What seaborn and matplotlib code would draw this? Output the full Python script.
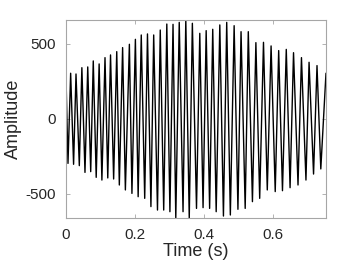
import numpy as np
import pandas as pd
import matplotlib
matplotlib.use("Agg")
import matplotlib.pyplot as plt
import seaborn as sns

# extremes of the waveform (time in s, amplitude)
peak_t = [0.0135, 0.029, 0.046, 0.063, 0.079, 0.096, 0.113, 0.129, 0.147, 0.164,
          0.1836, 0.201, 0.218, 0.236, 0.254, 0.273, 0.292, 0.310, 0.328, 0.347,
          0.366, 0.3875, 0.406, 0.425, 0.4455, 0.4655, 0.487, 0.507, 0.528, 0.550,
          0.572, 0.594, 0.616, 0.638, 0.659, 0.682, 0.704, 0.727]
peak_v = [305, 300, 342, 347, 387, 367, 409, 427, 449, 476,
          498, 531, 560, 567, 560, 593, 633, 631, 644, 662,
          638, 571, 589, 598, 627, 644, 622, 582, 582, 509,
          511, 487, 456, 464, 442, 409, 378, 356]

trough_t = [0.0058, 0.022, 0.0386, 0.055, 0.0716, 0.0875, 0.104, 0.121, 0.138, 0.1545,
            0.172, 0.191, 0.209, 0.228, 0.246, 0.265, 0.283, 0.301, 0.318, 0.339,
            0.357, 0.378, 0.397, 0.416, 0.435, 0.456, 0.476, 0.498, 0.519, 0.540,
            0.561, 0.583, 0.606, 0.627, 0.649, 0.672, 0.695, 0.717, 0.738]
trough_v = [-296, -302, -311, -356, -351, -389, -407, -393, -400, -440,
            -473, -496, -518, -529, -584, -607, -607, -618, -662, -618,
            -662, -596, -591, -596, -618, -647, -640, -602, -596, -551,
            -529, -473, -484, -478, -458, -440, -407, -367, -333]

edge_t = [0.0, 0.753]
edge_v = [282, 305]

df = pd.DataFrame({
    "t": np.concatenate([edge_t, peak_t, trough_t]),
    "a": np.concatenate([edge_v, peak_v, trough_v]),
}).sort_values("t")

sns.set_theme(style="white")
plt.rcParams["font.family"] = ["Liberation Sans", "DejaVu Sans"]
plt.rcParams["axes.unicode_minus"] = False

fig = plt.figure(figsize=(3.6, 2.7), dpi=100)
ax = fig.add_axes([0.1833, 0.1915, 0.7222, 0.7356])

sns.lineplot(data=df, x="t", y="a", sort=False, estimator=None,
             color="black", linewidth=1.0, ax=ax)

ax.set_xlim(0, 0.753)
ax.set_ylim(-662, 662)
ax.set_xticks([0, 0.2, 0.4, 0.6])
ax.set_xticklabels(["0", "0.2", "0.4", "0.6"])
ax.set_yticks([-500, 0, 500])

for s in ax.spines.values():
    s.set_color("#a6a6a6")
    s.set_linewidth(0.8)
ax.tick_params(direction="in", length=3, width=0.6, color="#a6a6a6",
               top=True, right=True, bottom=True, left=True,
               labelsize=11, labelcolor="#262626", pad=7)

ax.set_xlabel("Time (s)", fontsize=13, color="#262626", labelpad=1)
ax.set_ylabel("Amplitude", fontsize=13, color="#262626", labelpad=3)

fig.savefig("out.png", dpi=100)
